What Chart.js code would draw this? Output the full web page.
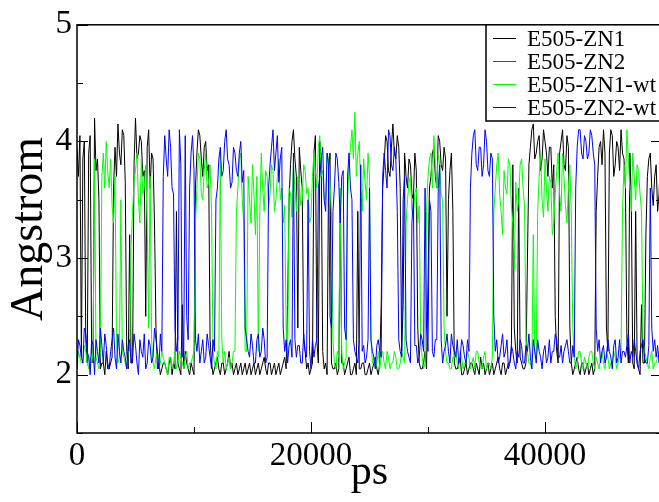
<!DOCTYPE html>
<html>
<head>
<meta charset="utf-8">
<script src="https://cdn.jsdelivr.net/npm/chart.js@4.4.0/dist/chart.umd.min.js"></script>
<style>
  html, body { margin: 0; padding: 0; background: #fff; overflow: hidden; }
  canvas { display: block; }
</style>
</head>
<body>
<canvas id="distChart" width="670" height="502"></canvas>
<script>
// sampling interval of the traces (ps)
const STEP_PS = 125;

const seriesNames = ["E505-ZN1", "E505-ZN2", "E505-ZN1-wt", "E505-ZN2-wt"];
const seriesColors = ["#000000", "#ff0000", "#00ff00", "#0000ff"];

// E505-ZN1 (black), one row = 2500 ps
const zn1 = [
  3.95, 3.7, 4.05, 2.15, 3.85, 4.0, 2.3, 2.1, 3.9, 4.05, 2.2, 2.1, 4.2, 3.75, 3.85, 3.5, 2.05, 2.1, 2.1, 2.0,
  2.2, 2.05, 2.05, 2.1, 2.15, 3.6, 3.95, 3.7, 4.15, 3.9, 3.8, 4.1, 4.05, 3.65, 2.2, 2.05, 3.2, 2.1, 2.1, 3.8,
  4.2, 3.85, 3.9, 4.05, 4.0, 3.7, 3.75, 2.5, 3.95, 4.1, 3.6, 3.9, 3.85, 3.3, 2.4, 2.05, 2.1, 2.0, 2.05, 2.1,
  2.1, 2.05, 2.0, 2.1, 2.15, 2.0, 2.1, 2.05, 3.4, 2.1, 2.05, 2.0, 2.6, 2.05, 2.2, 2.1, 2.05, 2.0, 2.1, 2.05,
  2.0, 3.6, 3.9, 4.1, 4.05, 3.85, 3.7, 3.95, 4.0, 3.75, 3.8, 2.3, 2.1, 2.0, 2.05, 2.1, 2.15, 2.05, 2.0, 2.1,
  2.1, 2.0, 2.05, 2.1, 2.2, 2.05, 2.1, 2.0, 2.05, 2.1, 2.0, 2.05, 2.1, 2.0, 2.05, 2.1, 2.0, 2.05, 2.1, 2.0,
  2.05, 2.1, 2.0, 2.05, 2.1, 2.0, 2.05, 2.1, 2.15, 2.05, 2.0, 2.1, 2.1, 2.0, 2.05, 2.1, 2.0, 2.05, 2.1, 2.0,
  2.05, 2.1, 2.15, 2.05, 2.6, 3.5, 3.8, 4.0, 4.1, 3.85, 3.7, 2.4, 3.95, 3.75, 3.6, 2.3, 2.2, 2.05, 2.1, 2.0,
  2.05, 2.1, 3.9, 4.05, 2.3, 2.1, 4.0, 3.8, 2.2, 2.05, 2.1, 2.0, 3.7, 3.9, 2.1, 2.05, 2.05, 2.1, 2.0, 2.05,
  3.5, 2.1, 2.1, 2.0, 2.05, 2.1, 2.15, 2.0, 2.0, 2.05, 2.1, 2.0, 3.4, 2.05, 2.05, 2.1, 2.1, 2.0, 2.0, 2.05,
  2.1, 2.0, 2.05, 2.1, 2.15, 2.05, 2.0, 2.1, 2.6, 3.6, 3.8, 4.05, 4.0, 3.75, 3.7, 3.95, 4.15, 3.9, 3.85, 4.05,
  3.95, 3.6, 2.2, 2.6, 3.9, 3.7, 3.6, 3.85, 3.8, 3.55, 3.5, 3.9, 3.75, 2.4, 2.1, 2.05, 2.05, 2.1, 2.2, 2.05,
  2.8, 3.6, 3.7, 3.9, 3.95, 3.7, 3.6, 4.05, 4.0, 3.8, 3.75, 3.95, 3.85, 2.5, 3.5, 3.75, 3.9, 3.4, 2.1, 2.05,
  2.05, 2.1, 2.15, 2.0, 2.0, 2.05, 2.1, 2.0, 2.05, 2.1, 2.1, 2.05, 2.0, 2.1, 2.05, 2.0, 2.15, 2.05, 2.1, 2.0,
  2.05, 2.1, 2.0, 2.05, 2.1, 2.0, 2.05, 2.1, 2.15, 2.05, 2.0, 2.1, 2.1, 2.0, 2.05, 2.1, 2.1, 2.2, 3.8, 2.4,
  2.2, 2.1, 3.6, 2.15, 2.1, 2.05, 2.05, 2.1, 3.0, 3.8, 3.95, 4.1, 4.15, 3.85, 3.9, 4.0, 4.05, 3.75, 3.85, 4.1,
  4.0, 3.9, 3.7, 3.95, 3.95, 3.6, 3.8, 2.5, 2.2, 2.1, 3.9, 4.0, 4.1, 3.8, 3.75, 4.05, 3.95, 2.4, 2.1, 2.0,
  2.05, 2.1, 2.15, 2.05, 2.0, 2.1, 2.1, 2.0, 2.05, 2.1, 2.0, 2.05, 2.1, 2.0, 2.05, 3.4, 3.7, 3.95, 4.0, 3.8,
  4.1, 3.9, 2.4, 2.2, 3.9, 4.1, 4.05, 3.7, 3.8, 4.0, 3.95, 3.75, 4.1, 3.9, 3.85, 3.6, 2.3, 2.1, 3.9, 3.5,
  2.1, 2.05, 3.4, 2.1, 2.05, 2.0, 2.6, 2.1, 2.1, 3.2, 3.7, 3.85, 3.9, 3.6, 3.45, 3.7, 3.8, 3.4, 3.55, 3.9,
  3.75
];

// E505-ZN2 (red) - not visible in the plot
const zn2 = [];

// E505-ZN1-wt (green)
const zn1wt = [
  2.05, 2.2, 2.15, 2.1, 2.1, 2.25, 2.2, 2.1, 2.05, 2.15, 2.1, 2.2, 3.85, 2.15, 2.1, 2.05, 2.2, 3.7, 3.9, 3.6,
  4.0, 3.75, 3.6, 3.85, 3.45, 3.3, 3.7, 2.3, 2.1, 2.15, 3.5, 2.2, 2.15, 2.1, 2.05, 2.2, 2.2, 3.1, 3.4, 3.65,
  3.75, 3.9, 3.5, 3.3, 3.85, 3.55, 3.6, 3.8, 3.3, 2.4, 3.7, 2.3, 2.1, 2.05, 2.15, 2.2, 2.05, 2.1, 2.2, 2.15,
  2.1, 2.05, 2.0, 2.15, 2.15, 2.05, 2.1, 2.2, 2.05, 2.1, 2.2, 2.15, 2.1, 2.05, 2.15, 2.2, 2.05, 2.1, 2.1, 2.15,
  2.2, 3.3, 3.6, 3.9, 3.85, 3.55, 3.5, 3.75, 3.9, 3.6, 3.65, 3.8, 3.4, 2.2, 2.1, 2.05, 2.2, 2.15, 3.9, 2.3,
  2.1, 2.2, 2.05, 2.1, 2.15, 2.05, 2.1, 2.2, 2.2, 3.4, 3.6, 3.85, 3.9, 3.5, 3.3, 2.2, 2.2, 3.7, 3.5, 3.3,
  3.8, 3.55, 3.2, 3.7, 2.2, 3.4, 3.9, 3.6, 3.4, 3.75, 3.7, 3.45, 3.55, 3.8, 3.75, 3.4, 3.5, 3.7, 3.85, 3.5,
  3.6, 3.3, 3.45, 2.4, 2.15, 3.6, 3.55, 3.35, 3.8, 3.6, 3.4, 3.7, 3.65, 3.45, 3.5, 3.8, 3.75, 3.55, 3.6, 3.3,
  3.35, 3.7, 3.9, 3.75, 3.6, 3.95, 4.05, 3.7, 3.75, 3.5, 3.5, 3.9, 3.85, 3.65, 3.4, 2.3, 2.1, 2.05, 2.2, 2.15,
  3.6, 2.2, 2.05, 2.1, 2.15, 3.5, 3.8, 3.95, 4.1, 3.85, 4.25, 3.7, 3.9, 4.0, 3.6, 3.4, 3.85, 3.65, 3.5, 3.9,
  3.7, 2.3, 2.1, 2.15, 2.05, 2.1, 2.2, 2.05, 2.15, 2.2, 2.1, 2.05, 2.2, 2.15, 2.05, 2.1, 2.1, 2.2, 2.15, 2.05,
  2.05, 2.1, 2.2, 2.15, 2.1, 3.3, 3.5, 3.65, 3.7, 3.4, 3.35, 3.55, 3.6, 3.3, 3.45, 2.3, 2.15, 2.05, 2.1, 3.4,
  3.7, 3.85, 3.9, 3.6, 4.05, 3.8, 3.6, 3.9, 3.8, 3.55, 3.5, 2.4, 2.2, 2.1, 2.1, 2.05, 2.05, 2.15, 2.15, 2.2,
  2.1, 2.05, 2.2, 2.15, 2.05, 2.1, 2.1, 2.2, 2.15, 2.05, 2.1, 2.15, 2.05, 2.2, 2.2, 2.1, 2.1, 2.05, 2.15, 2.2,
  2.05, 2.1, 2.1, 2.05, 2.15, 3.4, 3.6, 3.8, 3.9, 3.55, 3.4, 3.2, 3.75, 3.6, 3.55, 3.85, 3.8, 3.45, 3.3, 2.9,
  3.65, 3.4, 3.5, 3.8, 3.85, 3.6, 3.45, 2.3, 2.2, 2.1, 2.1, 2.05, 3.2, 2.2, 2.15, 3.4, 3.7, 3.9, 3.5, 3.35,
  3.85, 3.6, 3.4, 3.7, 3.65, 3.2, 3.3, 3.55, 3.75, 3.9, 3.55, 3.4, 3.9, 3.7, 3.45, 3.3, 3.6, 3.8, 3.35, 2.4,
  2.15, 2.05, 2.1, 2.2, 2.2, 2.1, 2.05, 2.15, 2.1, 2.05, 2.15, 2.2, 2.2, 2.1, 2.05, 2.15, 2.1, 2.05, 2.15, 2.2,
  2.1, 2.05, 2.2, 2.15, 2.05, 2.1, 2.1, 2.2, 2.15, 2.05, 2.1, 2.15, 2.2, 3.4, 3.8, 3.6, 4.1, 3.85, 3.6, 3.4,
  3.9, 3.7, 3.5, 3.8, 3.75, 3.55, 3.4, 2.3, 2.2, 2.15, 2.1, 2.05, 2.15, 2.2, 2.05, 2.1, 2.1, 2.15, 2.2, 2.05,
  2.15
];

// E505-ZN2-wt (blue)
const zn2wt = [
  2.05, 2.3, 2.25, 2.15, 2.1, 2.4, 2.35, 2.2, 2.15, 2.0, 2.3, 2.25, 2.0, 2.3, 2.2, 2.1, 2.4, 2.25, 2.1, 2.35,
  2.25, 2.1, 2.05, 2.2, 2.3, 2.4, 2.15, 2.05, 2.35, 2.2, 2.1, 2.3, 2.2, 2.15, 2.05, 2.25, 2.3, 2.1, 2.15, 2.35,
  2.25, 2.1, 2.0, 2.3, 2.2, 2.15, 2.35, 2.05, 2.1, 2.3, 2.25, 2.1, 2.15, 2.4, 2.3, 2.2, 2.05, 2.35, 2.2, 3.7,
  4.05, 3.85, 3.7, 4.1, 3.95, 3.6, 3.55, 2.4, 2.2, 2.3, 4.1, 3.8, 2.15, 2.2, 4.05, 2.5, 2.3, 3.6, 3.9, 4.05,
  3.75, 2.3, 2.2, 2.35, 2.1, 2.2, 2.3, 2.1, 2.15, 2.35, 2.25, 2.15, 2.05, 2.3, 2.2, 3.5, 3.6, 3.85, 3.95, 3.7,
  3.75, 4.0, 4.1, 3.85, 3.8, 3.6, 3.65, 3.95, 3.9, 3.75, 3.7, 3.9, 4.0, 3.65, 3.75, 2.4, 2.3, 2.2, 2.15, 2.35,
  2.25, 2.1, 2.1, 2.3, 2.35, 2.15, 2.2, 2.4, 2.3, 2.1, 2.15, 3.6, 3.8, 3.95, 4.1, 3.75, 3.9, 4.05, 3.65, 3.85,
  3.95, 2.4, 2.2, 2.3, 2.1, 2.25, 2.3, 2.15, 3.9, 2.3, 2.15, 2.25, 2.25, 2.1, 2.1, 2.35, 2.2, 2.15, 3.5, 2.2,
  2.05, 2.3, 2.15, 2.25, 2.3, 3.6, 3.7, 3.85, 3.95, 3.5, 3.4, 3.9, 3.8, 2.5, 2.4, 3.4, 3.6, 3.9, 3.85, 3.65,
  3.3, 3.7, 3.75, 2.4, 2.3, 3.7, 3.9, 3.6, 3.5, 2.3, 2.2, 2.15, 2.1, 2.3, 3.8, 2.2, 2.25, 2.1, 2.15, 2.3,
  3.6, 2.3, 2.2, 2.15, 2.05, 2.25, 2.3, 2.2, 2.15, 3.7, 3.9, 3.75, 3.6, 4.1, 4.05, 3.8, 3.75, 3.95, 3.85, 3.4,
  2.3, 2.2, 2.15, 3.5, 3.7, 2.3, 2.2, 2.15, 2.1, 3.3, 3.5, 2.25, 2.25, 2.1, 2.15, 2.35, 2.3, 2.2, 3.6, 2.4,
  2.2, 3.5, 3.4, 2.2, 2.15, 2.3, 2.3, 3.6, 3.8, 2.3, 2.1, 2.2, 2.25, 2.35, 2.2, 2.1, 2.35, 2.25, 2.2, 2.15,
  2.3, 2.1, 2.15, 2.3, 2.25, 2.15, 2.1, 2.3, 2.2, 3.6, 3.9, 4.05, 4.1, 3.8, 3.75, 3.95, 3.95, 3.7, 3.8, 4.1,
  4.0, 3.75, 3.7, 3.9, 3.85, 2.5, 2.2, 2.3, 2.1, 2.15, 2.25, 2.35, 2.15, 2.2, 2.3, 2.05, 2.1, 2.25, 2.2, 2.1,
  2.05, 2.2, 2.15, 2.3, 2.25, 2.1, 2.1, 2.25, 2.2, 2.35, 2.15, 2.05, 2.3, 2.2, 2.1, 2.3, 2.2, 2.15, 2.05, 2.2,
  2.25, 2.1, 2.15, 2.3, 2.1, 2.2, 2.2, 2.35, 2.3, 2.15, 2.15, 2.25, 2.1, 2.2, 2.25, 2.3, 2.2, 2.1, 2.1, 2.25,
  2.15, 3.6, 3.95, 4.1, 4.1, 3.9, 3.85, 4.05, 4.0, 3.85, 3.9, 4.1, 4.05, 3.9, 3.8, 2.4, 2.2, 2.3, 2.1, 2.2,
  2.25, 2.1, 2.15, 2.3, 2.2, 2.15, 2.05, 2.25, 2.3, 2.1, 2.15, 2.3, 2.1, 2.2, 2.2, 2.15, 2.25, 2.35, 2.1, 2.2,
  2.15, 2.3, 2.2, 2.1, 2.05, 2.2, 2.25, 2.3, 2.15, 2.1, 2.1, 2.25, 3.6, 2.4, 2.2, 2.3, 2.15, 2.25, 2.1, 2.2,
  2.2
];

const xMajorTicks = [0, 20000, 40000];
const yTickLabels = [2, 3, 4, 5];

const FONT = "'Liberation Serif', 'Times New Roman', serif";

function toPoints(values) {
    return values.map((v, i) => ({ x: i * STEP_PS, y: v }));
}

// frame, inward ticks and the boxed legend, drawn like the original plot
const frameAndLegend = {
    id: "frameAndLegend",
    afterDraw(chart) {
        const ctx = chart.ctx;
        const a = chart.chartArea;
        const xs = chart.scales.x;
        const ys = chart.scales.y;

        ctx.save();
        ctx.strokeStyle = "#000";
        ctx.lineWidth = 1;

        ys.ticks.forEach(t => {
            const py = Math.round(ys.getPixelForValue(t.value)) + 0.5;
            const len = Number.isInteger(t.value) ? 11 : 6;
            ctx.beginPath();
            ctx.moveTo(a.left, py);
            ctx.lineTo(a.left + len, py);
            ctx.moveTo(a.right, py);
            ctx.lineTo(a.right - len, py);
            ctx.stroke();
        });

        xs.ticks.forEach(t => {
            const px = Math.round(xs.getPixelForValue(t.value)) + 0.5;
            const len = xMajorTicks.includes(t.value) ? 11 : 6;
            ctx.beginPath();
            ctx.moveTo(px, a.bottom);
            ctx.lineTo(px, a.bottom - len);
            ctx.stroke();
        });

        ctx.lineWidth = 1.5;
        ctx.strokeRect(a.left, a.top, a.right - a.left, a.bottom - a.top);

        // legend box
        const box = { left: 486, top: a.top, right: a.right, bottom: 121 };
        ctx.fillStyle = "#fff";
        ctx.fillRect(box.left, box.top, box.right - box.left, box.bottom - box.top);
        ctx.strokeRect(box.left, box.top, box.right - box.left, box.bottom - box.top);

        ctx.font = "23px " + FONT;
        ctx.textBaseline = "middle";
        ctx.textAlign = "left";
        chart.data.datasets.forEach((ds, i) => {
            const rowY = 38.5 + i * 23;
            ctx.strokeStyle = ds.borderColor;
            ctx.lineWidth = 1;
            ctx.beginPath();
            ctx.moveTo(493, rowY);
            ctx.lineTo(516, rowY);
            ctx.stroke();
            ctx.fillStyle = "#000";
            ctx.fillText(ds.label, 527, rowY + 1);
        });
        ctx.restore();
    }
};

const allSeries = [zn1, zn2, zn1wt, zn2wt];
// blue drawn on top, then green, red, black
const drawOrder = [3, 2, 1, 0];

const ctx = document.getElementById("distChart").getContext("2d");

new Chart(ctx, {
    type: "line",
    data: {
        datasets: allSeries.map((values, i) => ({
            label: seriesNames[i],
            data: toPoints(values),
            borderColor: seriesColors[i],
            backgroundColor: seriesColors[i],
            borderWidth: 1,
            pointRadius: 0,
            tension: 0,
            fill: false,
            order: drawOrder[i]
        }))
    },
    options: {
        responsive: false,
        animation: false,
        devicePixelRatio: 1,
        layout: { padding: { top: 24, right: 8, left: 0, bottom: 0 } },
        plugins: {
            legend: { display: false },
            tooltip: { enabled: false }
        },
        scales: {
            x: {
                type: "linear",
                min: 0,
                max: 50000,
                grid: { display: false, drawTicks: false },
                border: { display: false },
                ticks: {
                    stepSize: 10000,
                    autoSkip: false,
                    maxRotation: 0,
                    padding: 4,
                    color: "#000",
                    font: { family: FONT, size: 33 },
                    callback: v => xMajorTicks.includes(v) ? String(v) : ""
                },
                title: {
                    display: true,
                    text: "ps",
                    color: "#000",
                    font: { family: FONT, size: 42 },
                    padding: { top: 0, bottom: 4 }
                },
                afterFit(scale) { scale.height = 69; }
            },
            y: {
                min: 1.5,
                max: 5,
                grid: { display: false, drawTicks: false },
                border: { display: false },
                ticks: {
                    stepSize: 0.5,
                    autoSkip: false,
                    padding: 5,
                    color: "#000",
                    font: { family: FONT, size: 33 },
                    callback: v => yTickLabels.includes(v) ? String(v) : ""
                },
                title: {
                    display: true,
                    text: "Angstrom",
                    color: "#000",
                    font: { family: FONT, size: 46 },
                    padding: { top: 2, bottom: 0 }
                },
                afterFit(scale) { scale.width = 77; }
            }
        }
    },
    plugins: [frameAndLegend]
});
</script>
</body>
</html>
